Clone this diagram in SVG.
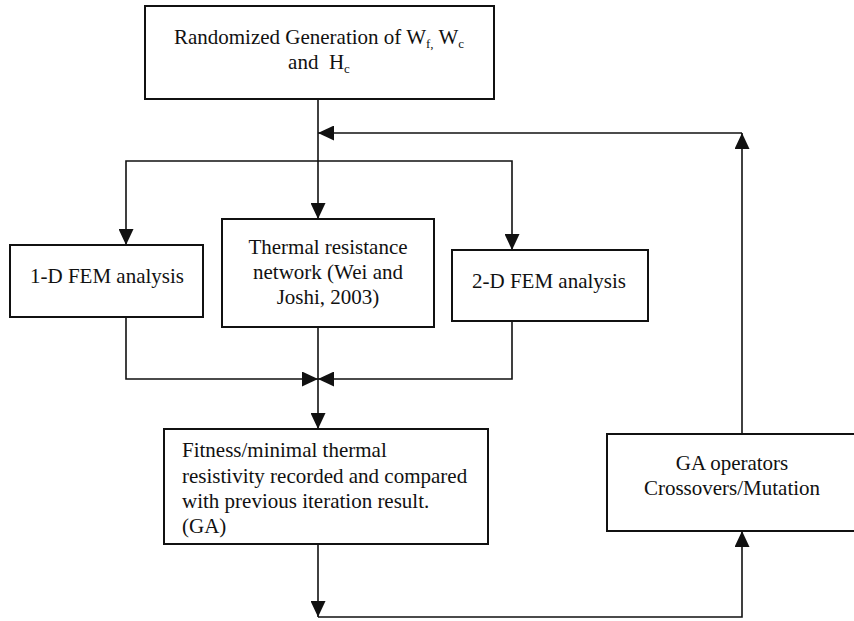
<svg xmlns="http://www.w3.org/2000/svg" width="854" height="621" viewBox="0 0 854 621">
<style>
.box{fill:#fff;stroke:#111;stroke-width:2}
.ln{fill:none;stroke:#111;stroke-width:1.6}
text{font-family:"Liberation Serif","Times New Roman",serif;font-size:21px;fill:#111}
.c{text-anchor:middle}
.sub{font-size:13px}
</style>
<defs>
<marker id="ah" viewBox="0 0 16 15" refX="16" refY="7.5" markerWidth="16" markerHeight="15" markerUnits="userSpaceOnUse" orient="auto">
<path d="M0,0 L16,7.5 L0,15 Z" fill="#111"/>
</marker>
</defs>
<g id="connectors">
<path class="ln" d="M318,99 V219" marker-end="url(#ah)"/>
<path class="ln" d="M318,161 H126 V245" marker-end="url(#ah)"/>
<path class="ln" d="M318,161 H512 V250" marker-end="url(#ah)"/>
<path class="ln" d="M742,434 V133" marker-end="url(#ah)"/>
<path class="ln" d="M742,133 H318" marker-end="url(#ah)"/>
<path class="ln" d="M126,317 V379 H318" marker-end="url(#ah)"/>
<path class="ln" d="M512,321 V379 H318" marker-end="url(#ah)"/>
<path class="ln" d="M318,327 V429" marker-end="url(#ah)"/>
<path class="ln" d="M318,544 V617" marker-end="url(#ah)"/>
<path class="ln" d="M318,617 H742 V531" marker-end="url(#ah)"/>
</g>
<g id="node-random">
<rect class="box" x="145" y="6" width="349" height="93"/>
<text x="319" y="44" class="c">Randomized Generation of W<tspan class="sub" dy="4">f,</tspan><tspan dy="-4"> W</tspan><tspan class="sub" dy="4">c</tspan></text>
<text x="319" y="69" class="c" xml:space="preserve">and  H<tspan class="sub" dy="4">c</tspan></text>
</g>
<g id="node-1d">
<rect class="box" x="10" y="245" width="193" height="72"/>
<text x="107" y="283" class="c">1-D FEM analysis</text>
</g>
<g id="node-thermal">
<rect class="box" x="222" y="219" width="212" height="108"/>
<text x="328" y="254" class="c">Thermal resistance</text>
<text x="328" y="279" class="c">network (Wei and</text>
<text x="328" y="304" class="c">Joshi, 2003)</text>
</g>
<g id="node-2d">
<rect class="box" x="452" y="250" width="196" height="71"/>
<text x="549" y="288" class="c">2-D FEM analysis</text>
</g>
<g id="node-fitness">
<rect class="box" x="164" y="429" width="324" height="115"/>
<text x="182" y="457">Fitness/minimal thermal</text>
<text x="182" y="483">resistivity recorded and compared</text>
<text x="182" y="508">with previous iteration result.</text>
<text x="182" y="533">(GA)</text>
</g>
<g id="node-ga">
<rect class="box" x="607" y="434" width="260" height="97"/>
<text x="732" y="470" class="c">GA operators</text>
<text x="732" y="495" class="c">Crossovers/Mutation</text>
</g>
</svg>
